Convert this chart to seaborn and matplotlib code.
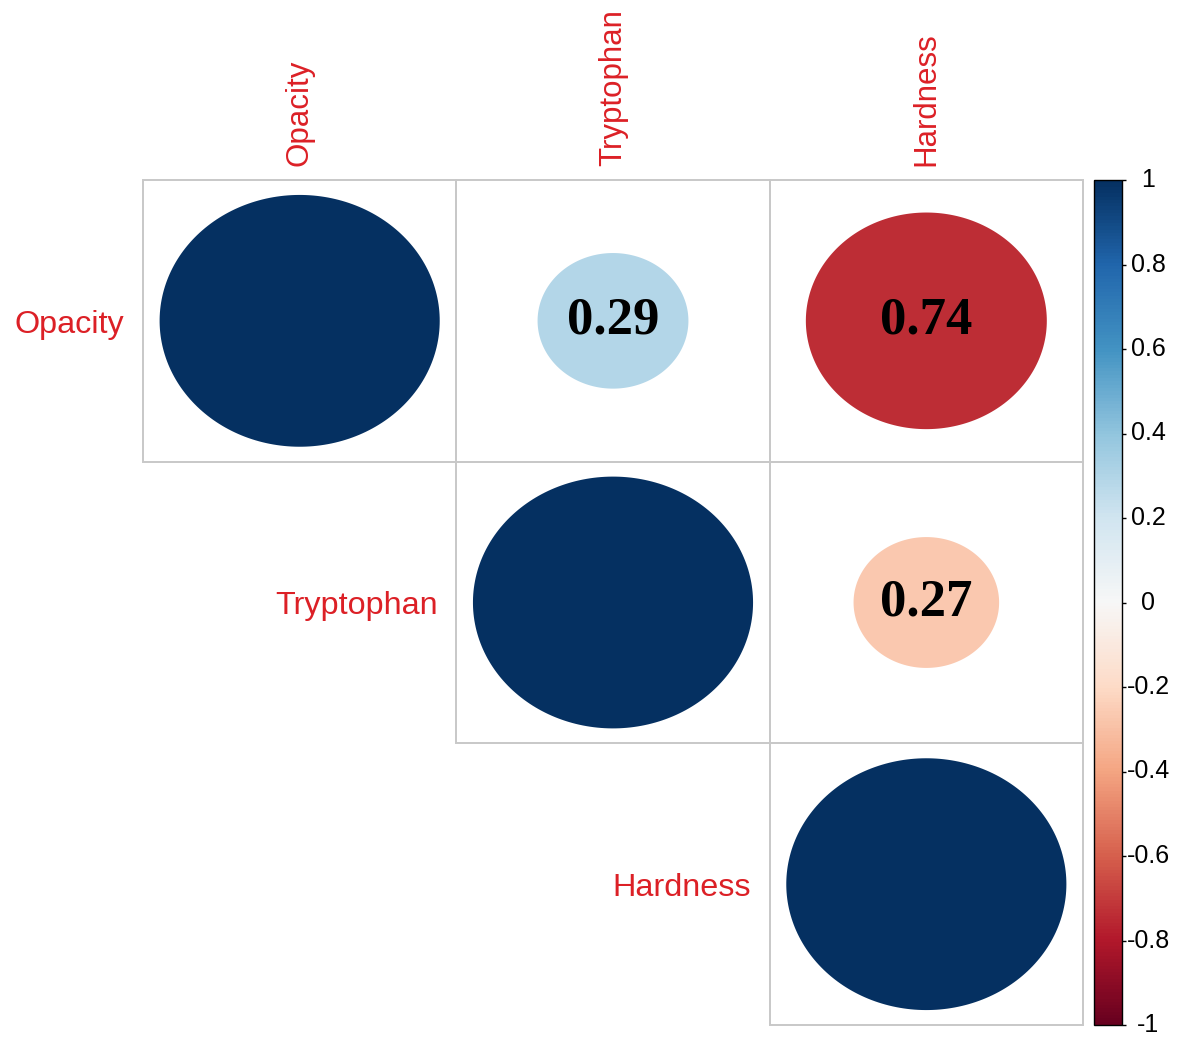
import numpy as np
import pandas as pd
import matplotlib
matplotlib.use("Agg")
import matplotlib.pyplot as plt
import matplotlib.path as mpath
from matplotlib.patches import Rectangle
from matplotlib.colors import Normalize
from matplotlib.cm import ScalarMappable
import seaborn as sns

# values (colour says sign, printed text shows magnitude)
labels = ["Opacity", "Tryptophan", "Hardness"]
corr_opacity = [1.00, 0.29, -0.74]
corr_tryptophan = [0.29, 1.00, -0.27]
corr_hardness = [-0.74, -0.27, 1.00]
cbar_ticks = [1, 0.8, 0.6, 0.4, 0.2, 0, -0.2, -0.4, -0.6, -0.8, -1]
cbar_ticklabels = ["1", "0.8", "0.6", "0.4", "0.2", "0", "-0.2", "-0.4", "-0.6", "-0.8", "-1"]

corr = np.array([corr_opacity, corr_tryptophan, corr_hardness])
n = len(labels)

# upper triangle (incl. diagonal) in long form
rows = []
for i in range(n):
    for j in range(i, n):
        rows.append({"x": j + 0.5, "y": i + 0.5, "r": corr[i, j], "size": abs(corr[i, j]), "i": i, "j": j})
df = pd.DataFrame(rows)

sns.set_theme(style="white")
plt.rcParams["font.family"] = ["Liberation Sans", "DejaVu Sans"]

W, H = 1181, 1049
fig = plt.figure(figsize=(W / 100, H / 100), dpi=100)
ax_l, ax_b, ax_w, ax_h = 143, 24, 940, 845
ax = fig.add_axes([ax_l / W, ax_b / H, ax_w / W, ax_h / H])

# ellipse marker with the cell aspect ratio, area ~ |r|
cell_w, cell_h = ax_w / n, ax_h / n
theta = np.linspace(0, 2 * np.pi, 240)
ell = mpath.Path(np.column_stack([np.cos(theta) * cell_w / cell_h, np.sin(theta)]), closed=True)
full_pt = 0.894 * cell_w * 72 / 100
sns.scatterplot(data=df, x="x", y="y", hue="r", size="size", palette="RdBu",
                hue_norm=(-1, 1), sizes=(0, full_pt ** 2), size_norm=(0, 1),
                marker=ell, linewidth=0, legend=False, ax=ax, zorder=3)

# grid boxes
for _, row in df.iterrows():
    ax.add_patch(Rectangle((row["j"], row["i"]), 1, 1, fill=False, edgecolor="#c8c8c8",
                           lw=1.4, clip_on=False, zorder=2))

# value text
for _, row in df.iterrows():
    if row["i"] != row["j"]:
        ax.text(row["x"], row["y"], f"{abs(row['r']):.2f}", ha="center", va="center",
                fontsize=38, fontweight="bold", family=["Liberation Serif", "DejaVu Serif"],
                color="black", zorder=4)

label_col = "#dc2026"
for k, lab in enumerate(labels):
    ax.text(k + 0.5, -0.05, lab, rotation=90, ha="center", va="bottom",
            fontsize=22.5, color=label_col)
    ax.text(k - 0.06, k + 0.5 + 0.042, lab, ha="right", va="baseline",
            fontsize=23.3, color=label_col)

ax.set_xlim(0, n)
ax.set_ylim(n, 0)
ax.axis("off")

# colour bar
cax = fig.add_axes([1094 / W, ax_b / H, 28 / W, ax_h / H])
cb = fig.colorbar(ScalarMappable(norm=Normalize(-1, 1), cmap="RdBu"), cax=cax)
cb.outline.set_edgecolor("black")
cb.outline.set_linewidth(1.0)
cb.set_ticks(cbar_ticks)
cax.tick_params(axis="y", right=True, left=False, length=3, width=1, color="black",
                labelright=False, labelleft=False)
for t, lab in zip(cbar_ticks, cbar_ticklabels):
    cax.text(1.93, t, lab, transform=cax.get_yaxis_transform(), ha="center", va="center",
             fontsize=18, color="black")

fig.savefig("out.png", dpi=100, facecolor="white")
